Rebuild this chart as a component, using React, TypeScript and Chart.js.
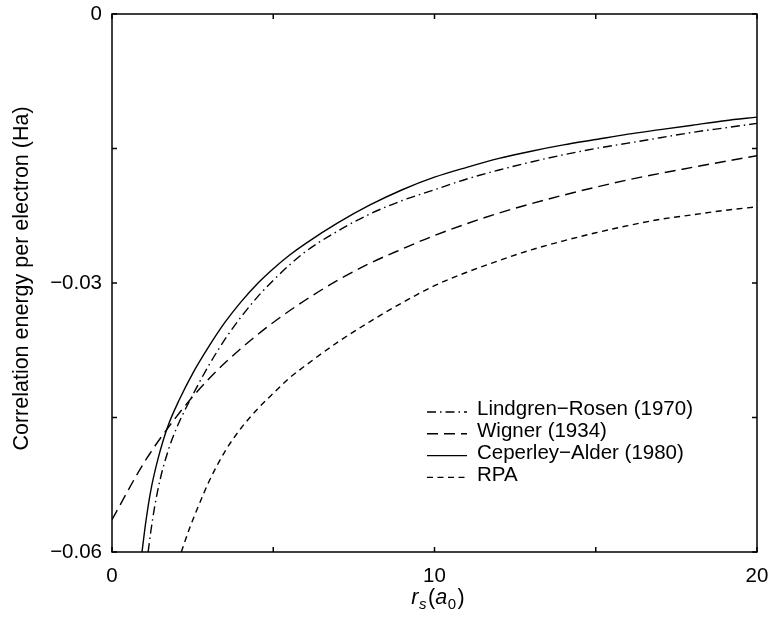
import React, { useEffect, useRef } from "react";
import { Chart, registerables } from "chart.js";

Chart.register(...registerables);

const FONT = "'Liberation Sans', Arial, Helvetica, sans-serif";
const FONT_SIZE = 20.5;
const TITLE_SIZE = 21.5;

// Axis ranges and ticks
const X_MIN = 0;
const X_MAX = 20;
const X_STEP = 5;
const X_LABELED = [0, 10, 20];
const Y_MIN = -0.06;
const Y_MAX = 0;
const Y_STEP = 0.015;
const Y_LABELED = [-0.06, -0.03, 0];
const Y_TITLE = "Correlation energy per electron (Ha)";

// Lindgren–Rosen (1970)
const lrRs = [1.12, 1.2, 1.33, 1.5, 1.75, 2.0, 2.5, 3.0, 3.5, 4.0, 4.5, 5.0, 5.5, 6.0, 7, 8, 9, 10, 11, 12, 13, 14, 15, 16, 17, 18, 19, 20];
const lrE = [-0.06, -0.0578, -0.0548, -0.0518, -0.0486, -0.0462, -0.0425, -0.0392, -0.0363, -0.0338, -0.0316, -0.0297, -0.028, -0.0265, -0.0242, -0.0223, -0.0208, -0.0196, -0.0184, -0.0174, -0.0165, -0.0157, -0.015, -0.0144, -0.0138, -0.0132, -0.0127, -0.0122];

// Wigner (1934)
const wgRs = [0, 1, 2, 3, 4, 5, 6, 7, 8, 9, 10, 12, 14, 16, 18, 20];
const wgE = [-0.0564, -0.05, -0.0449, -0.0407, -0.0373, -0.0344, -0.0319, -0.0297, -0.0278, -0.0262, -0.0247, -0.0222, -0.0202, -0.0185, -0.0171, -0.0158];

// Ceperley–Alder (1980)
const caRs = [0.93, 1.05, 1.2, 1.42, 1.73, 2.09, 2.5, 3.0, 3.5, 4.0, 4.5, 5.0, 5.5, 6.0, 7, 8, 9, 10, 11, 12, 13, 14, 15, 16, 17, 18, 19, 20];
const caE = [-0.06, -0.0566, -0.0532, -0.0497, -0.046, -0.043, -0.0401, -0.0371, -0.0344, -0.0321, -0.0301, -0.0284, -0.0269, -0.0256, -0.0233, -0.0213, -0.0196, -0.0182, -0.0171, -0.0161, -0.0153, -0.0146, -0.014, -0.0134, -0.0129, -0.0124, -0.0119, -0.0115];

// RPA
const rpaRs = [2.15, 2.4, 2.7, 3.0, 3.5, 4.0, 4.5, 5.0, 5.5, 6.0, 7, 8, 9, 10, 11, 12, 13, 14, 15, 16, 17, 18, 19, 20];
const rpaE = [-0.06, -0.0574, -0.0547, -0.0522, -0.0488, -0.0462, -0.0441, -0.0423, -0.0406, -0.0392, -0.0366, -0.0343, -0.0322, -0.0303, -0.0288, -0.0275, -0.0263, -0.0253, -0.0244, -0.0236, -0.0229, -0.0224, -0.0219, -0.0215];

const SERIES_LABELS = [
  "Lindgren\u2212Rosen (1970)",
  "Wigner (1934)",
  "Ceperley\u2212Alder (1980)",
  "RPA",
];
const SERIES_DASH = [
  [9, 4, 1.5, 4],
  [11, 6],
  [],
  [6, 4.5],
];

const toPoints = (xs: number[], ys: number[]) => xs.map((x, i) => ({ x, y: ys[i] }));

const isLabeled = (v: number, list: number[], step: number) =>
  list.some((l) => Math.abs(l - v) < step / 10);

const fmtY = (v: number) => {
  if (Math.abs(v) < 1e-9) return "0";
  return (v < 0 ? "\u2212" : "") + Math.abs(v).toFixed(2);
};

// Layout constants
const LEGEND_X = 427;
const LEGEND_Y0 = 409.5;
const LEGEND_ROW = 21.8;
const LEGEND_LINE = 40;
const LEGEND_GAP = 10;
const Y_TITLE_X = 22;
const Y_TITLE_Y = 278.5;
const X_TITLE_CX = 438;
const X_TITLE_BASE = 604;

const framePlugin = {
  id: "frame",
  afterDatasetsDraw(chart: any) {
    const { ctx, chartArea: a, scales } = chart;
    ctx.save();
    ctx.strokeStyle = "#000";
    ctx.lineWidth = 1.5;
    ctx.setLineDash([]);
    ctx.strokeRect(a.left, a.top, a.right - a.left, a.bottom - a.top);
    const L = 5;
    ctx.beginPath();
    scales.x.ticks.forEach((t: any) => {
      const px = scales.x.getPixelForValue(t.value);
      ctx.moveTo(px, a.bottom);
      ctx.lineTo(px, a.bottom - L);
      ctx.moveTo(px, a.top);
      ctx.lineTo(px, a.top + L);
    });
    scales.y.ticks.forEach((t: any) => {
      const py = scales.y.getPixelForValue(t.value);
      ctx.moveTo(a.left, py);
      ctx.lineTo(a.left + L, py);
      ctx.moveTo(a.right, py);
      ctx.lineTo(a.right - L, py);
    });
    ctx.stroke();
    ctx.restore();
  },
};

const legendPlugin = {
  id: "innerLegend",
  afterDatasetsDraw(chart: any) {
    const { ctx } = chart;
    ctx.save();
    ctx.font = `${FONT_SIZE}px ${FONT}`;
    ctx.textBaseline = "middle";
    ctx.textAlign = "left";
    chart.data.datasets.forEach((ds: any, i: number) => {
      const y = LEGEND_Y0 + i * LEGEND_ROW;
      ctx.strokeStyle = "#000";
      ctx.lineWidth = 1.4;
      ctx.setLineDash(ds.borderDash || []);
      ctx.beginPath();
      ctx.moveTo(LEGEND_X, y + 2.5);
      ctx.lineTo(LEGEND_X + LEGEND_LINE, y + 2.5);
      ctx.stroke();
      ctx.setLineDash([]);
      ctx.fillStyle = "#000";
      ctx.fillText(ds.label, LEGEND_X + LEGEND_LINE + LEGEND_GAP, y);
    });
    ctx.restore();
  },
};

const titlesPlugin = {
  id: "axisTitles",
  afterDraw(chart: any) {
    const { ctx } = chart;
    ctx.save();
    ctx.fillStyle = "#000";
    // y title
    ctx.translate(Y_TITLE_X, Y_TITLE_Y);
    ctx.rotate(-Math.PI / 2);
    ctx.font = `${TITLE_SIZE}px ${FONT}`;
    ctx.textAlign = "center";
    ctx.textBaseline = "middle";
    ctx.fillText(Y_TITLE, 0, 0);
    ctx.restore();

    // x title: r_s(a_0)
    const big = `${TITLE_SIZE}px ${FONT}`;
    const bigI = `italic ${TITLE_SIZE}px ${FONT}`;
    const small = `15px ${FONT}`;
    const smallI = `italic 15px ${FONT}`;
    const subBase = X_TITLE_BASE + 4.5;
    const parts: [string, string, number, number][] = [
      ["r", bigI, X_TITLE_BASE, 0.5],
      ["s", smallI, subBase, 1.5],
      ["(", big, X_TITLE_BASE, 0],
      ["a", bigI, X_TITLE_BASE, 0.5],
      ["0", small, subBase, 1.5],
      [")", big, X_TITLE_BASE, 0],
    ];
    ctx.save();
    ctx.fillStyle = "#000";
    ctx.textBaseline = "alphabetic";
    ctx.textAlign = "left";
    let total = 0;
    parts.forEach(([t, f, , g]) => {
      ctx.font = f;
      total += ctx.measureText(t).width + g;
    });
    let x = X_TITLE_CX - total / 2;
    parts.forEach(([t, f, b, g]) => {
      ctx.font = f;
      ctx.fillText(t, x, b);
      x += ctx.measureText(t).width + g;
    });
    ctx.restore();
  },
};

const zeroPadding = (s: any) => {
  s.paddingLeft = 0;
  s.paddingRight = 0;
  s.paddingTop = 0;
  s.paddingBottom = 0;
};

export default function App() {
  const ref = useRef<HTMLCanvasElement | null>(null);

  useEffect(() => {
    if (!ref.current) return;
    const series = [
      toPoints(lrRs, lrE),
      toPoints(wgRs, wgE),
      toPoints(caRs, caE),
      toPoints(rpaRs, rpaE),
    ];
    const chart = new Chart(ref.current, {
      type: "line",
      data: {
        datasets: series.map((pts, i) => ({
          label: SERIES_LABELS[i],
          data: pts,
          borderColor: "#000",
          backgroundColor: "#000",
          borderWidth: 1.4,
          borderDash: SERIES_DASH[i],
          pointRadius: 0,
          fill: false,
          cubicInterpolationMode: "monotone" as const,
        })),
      },
      options: {
        animation: false,
        responsive: false,
        devicePixelRatio: 1,
        layout: { padding: { top: 14, right: 17, left: 0, bottom: 0 } },
        plugins: {
          legend: { display: false },
          tooltip: { enabled: false },
        },
        scales: {
          x: {
            type: "linear",
            min: X_MIN,
            max: X_MAX,
            grid: { display: false, drawTicks: false },
            border: { display: false },
            ticks: {
              stepSize: X_STEP,
              autoSkip: false,
              maxRotation: 0,
              padding: 12,
              color: "#000",
              font: { family: FONT, size: FONT_SIZE },
              callback: (v: any) => (isLabeled(Number(v), X_LABELED, X_STEP) ? String(Math.round(Number(v))) : ""),
            },
            afterFit: (s: any) => {
              s.height = 70;
              zeroPadding(s);
            },
          },
          y: {
            type: "linear",
            min: Y_MIN,
            max: Y_MAX,
            grid: { display: false, drawTicks: false },
            border: { display: false },
            ticks: {
              stepSize: Y_STEP,
              autoSkip: false,
              padding: 10,
              color: "#000",
              font: { family: FONT, size: FONT_SIZE },
              callback: (v: any) => (isLabeled(Number(v), Y_LABELED, Y_STEP) ? fmtY(Number(v)) : ""),
            },
            afterFit: (s: any) => {
              s.width = 112;
              zeroPadding(s);
            },
          },
        },
      },
      plugins: [framePlugin, legendPlugin, titlesPlugin],
    });
    return () => chart.destroy();
  }, []);

  return (
    <canvas
      ref={ref}
      width={774}
      height={622}
      style={{ position: "absolute", left: 0, top: 0, width: 774, height: 622, background: "#fff" }}
    />
  );
}
